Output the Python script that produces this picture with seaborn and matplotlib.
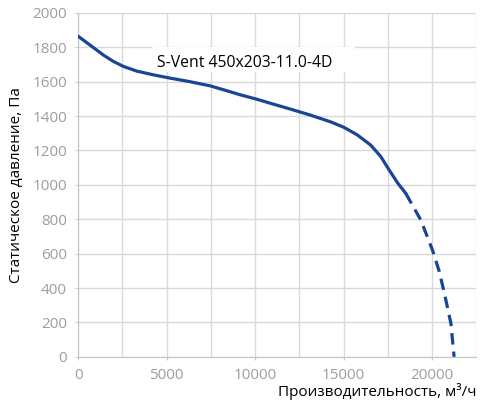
import matplotlib
matplotlib.use("Agg")
import matplotlib.pyplot as plt
from matplotlib.patches import Rectangle
import seaborn as sns
import pandas as pd

# Data
flow_solid = [0, 680, 1435, 2000, 2566, 3320, 4266, 5210, 6250, 7475, 8300, 9174, 10120,
              11000, 12005, 13137, 14270, 15025, 15780, 16535, 17100, 17570, 18050, 18520]
pres_solid = [1864, 1812, 1754, 1717, 1688, 1661, 1639, 1620, 1601, 1575, 1550, 1523, 1497,
              1470, 1440, 1405, 1366, 1334, 1290, 1231, 1165, 1088, 1012, 950]
flow_dash = [18520, 19370, 20030, 20400, 20690, 21070, 21250]
pres_dash = [950, 795, 620, 500, 375, 194, 0]
x_ticks = [0, 5000, 10000, 15000, 20000]
x_minor = [2500, 7500, 12500, 17500, 22500]
y_ticks = [0, 200, 400, 600, 800, 1000, 1200, 1400, 1600, 1800, 2000]
model_label = "S-Vent 450x203-11.0-4D"
x_label = "Производительность, м³/ч"
y_label = "Статическое давление, Па"

sns.set_style("white")
plt.rcParams['font.family'] = ['Open Sans', 'DejaVu Sans']

fig = plt.figure(figsize=(4.82, 4.0), dpi=100)
ax = fig.add_axes([0.162, 0.108, 0.826, 0.860])

color = "#1a4496"
df_s = pd.DataFrame({"x": flow_solid, "y": pres_solid})
df_d = pd.DataFrame({"x": flow_dash, "y": pres_dash})
sns.lineplot(data=df_s, x="x", y="y", ax=ax, color=color, lw=2.3, sort=False, zorder=5)
sns.lineplot(data=df_d, x="x", y="y", ax=ax, color=color, lw=2.3, sort=False, zorder=5)
ax.lines[0].set_solid_joinstyle("round")
ax.lines[-1].set_dashes((3.6, 2.2))

ax.set_xlim(0, 22500)
ax.set_ylim(0, 2000)
ax.set_xticks(x_ticks)
ax.set_xticks(x_minor, minor=True)
ax.set_yticks(y_ticks)
ax.grid(True, which="both", color="#d9d9d9", lw=1.0)
ax.tick_params(which="minor", length=0)
ax.tick_params(which="major", length=2, color="#cccccc", labelsize=11,
               labelcolor="#9e9e9e", pad=6)
ax.tick_params(axis="x", which="major", bottom=True)
ax.tick_params(axis="y", which="major", left=True)
for s in ["top", "right"]:
    ax.spines[s].set_visible(False)
ax.spines["left"].set_color("#c4c4c4")
ax.spines["bottom"].set_color("#c4c4c4")
ax.set_axisbelow(True)

ax.set_xlabel(x_label, fontsize=11, color="black")
ax.xaxis.set_label_coords(1.0, -0.077)
ax.xaxis.label.set_horizontalalignment("right")
ax.set_ylabel(y_label, fontsize=11, color="black")
ax.yaxis.set_label_coords(-0.135, 0.5)

ax.add_patch(Rectangle((0.186, 0.828), 0.510, 0.072, transform=ax.transAxes,
                       facecolor="white", edgecolor="none", zorder=3))
ax.text(0.198, 0.843, model_label, transform=ax.transAxes, fontsize=11.3,
        color="black", va="baseline", ha="left", zorder=4)

fig.savefig("out.png", dpi=100)
